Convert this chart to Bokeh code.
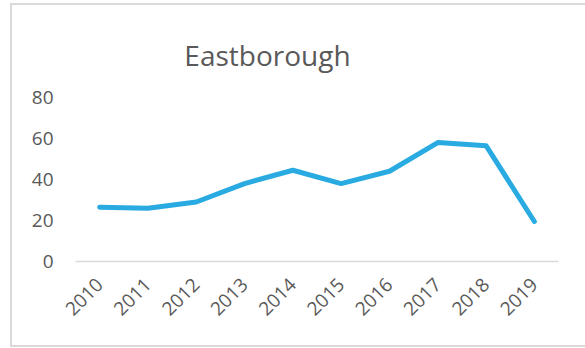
import math
from bokeh.plotting import figure
from bokeh.models import FactorRange, Range1d, ColumnDataSource, InlineStyleSheet
from bokeh.core.properties import value
from bokeh.embed import file_html
from bokeh.resources import INLINE

years = ["2010", "2011", "2012", "2013", "2014", "2015", "2016", "2017", "2018", "2019"]
values = [26.5, 26, 29, 38, 44.5, 38, 44, 58, 56.5, 19.5]
y_ticks = [0, 20, 40, 60, 80]
title_text = "Eastborough"

FONT = "Open Sans"
TXT = "#595959"

src = ColumnDataSource(dict(x=years, y=values))

border_css = InlineStyleSheet(css="""
:host { position: relative; }
:host::after {
  content: ""; position: absolute; left: 10px; top: 3px; right: 0px; bottom: 1px;
  border-left: 2px solid #d9d9d9; border-top: 2px solid #d9d9d9; border-bottom: 2px solid #d9d9d9;
  pointer-events: none;
}
""")

# frame spans from y=10 to y=261; y=80 lands at y=97 (2.05 px per unit)
p = figure(width=585, height=348, x_range=FactorRange(*years, range_padding=0),
           y_range=Range1d(0, 122.4), output_backend="svg", toolbar_location=None,
           min_border_left=75, min_border_right=27, min_border_top=10, min_border_bottom=87,
           stylesheets=[border_css])
p.outline_line_color = None
p.grid.grid_line_color = None

p.line("x", "y", source=src, line_color="#29ABE2", line_width=5,
       line_cap="round", line_join="round")

# title drawn as text inside the (blank) upper part of the frame
p.text(x=[("2013", 0.475)], y=[100.5], text=[title_text], text_align="center",
       text_baseline="alphabetic", text_font=value(FONT), text_font_size="28px",
       text_color=TXT)

# y axis
p.yaxis.ticker = y_ticks
p.yaxis.axis_line_color = None
p.yaxis.major_tick_line_color = None
p.yaxis.minor_tick_line_color = None
p.yaxis.major_tick_out = 0
p.yaxis.major_label_standoff = 22
p.yaxis.major_label_text_font = FONT
p.yaxis.major_label_text_font_size = "19px"
p.yaxis.major_label_text_color = TXT

# x axis
p.xaxis.axis_line_color = "#d9d9d9"
p.xaxis.axis_line_width = 1.5
p.xaxis.major_tick_line_color = None
p.xaxis.minor_tick_line_color = None
p.xaxis.major_tick_out = 0
p.xaxis.major_label_standoff = 20
p.xaxis.major_label_orientation = math.pi / 4
p.xaxis.major_label_text_font = FONT
p.xaxis.major_label_text_font_size = "19px"
p.xaxis.major_label_text_color = TXT

open("out.html", "w").write(file_html(p, INLINE))
